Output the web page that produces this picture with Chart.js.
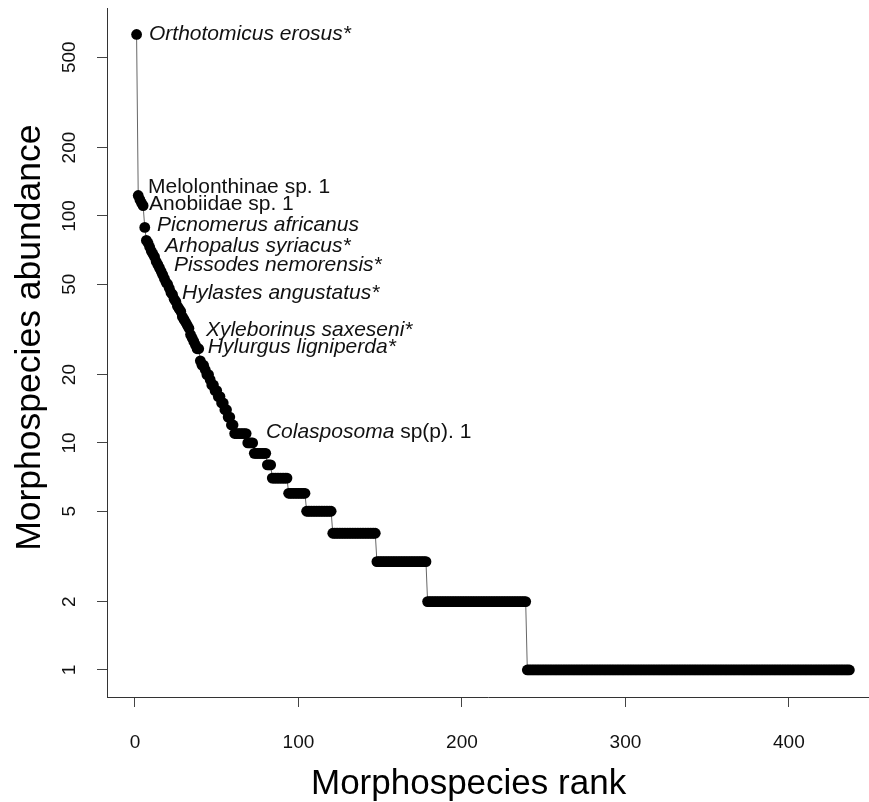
<!DOCTYPE html>
<html>
<head>
<meta charset="utf-8">
<script src="https://cdn.jsdelivr.net/npm/chart.js@4/dist/chart.umd.min.js"></script>
<style>
  html, body { margin: 0; padding: 0; background: #fff; overflow: hidden; }
  #wrap { width: 869px; height: 802px; }
</style>
</head>
<body>
<div id="wrap"><canvas id="rankChart" width="869" height="802"></canvas></div>
<script>
// abundances of the 60 most common morphospecies, by rank
const topAbundance = [
    630, 123, 118, 114, 111, 89, 78, 76, 73, 70,
    68, 66, 63, 61, 59, 57, 55, 53, 51, 50,
    48, 46, 45, 43, 42, 40, 39, 38, 36, 35,
    34, 33, 32, 30, 29, 28, 27, 26, 26, 23,
    22, 22, 21, 20, 20, 19, 18, 18, 17, 17,
    16, 16, 15, 15, 14, 14, 13, 13, 12, 12,
];
// the rest come in runs of equal abundance
const runValues = [11, 10, 9, 8, 7, 6, 5, 4, 3, 2, 1];
const runLengths = [8, 4, 8, 3, 10, 11, 16, 27, 31, 61, 198];

const xTicks = [0, 100, 200, 300, 400];
const yTicks = [1, 2, 5, 10, 20, 50, 100, 200, 500];

// species labels: parts [text, italic], anchored at (rank, abundance)
const labelParts = [
    [['Orthotomicus erosus*', true]],
    [['Melolonthinae sp. 1', false]],
    [['Anobiidae sp. 1', false]],
    [['Picnomerus africanus', true]],
    [['Arhopalus syriacus*', true]],
    [['Pissodes nemorensis*', true]],
    [['Hylastes angustatus*', true]],
    [['Xyleborinus saxeseni*', true]],
    [['Hylurgus ligniperda*', true]],
    [['Colasposoma', true], [' sp(p). 1', false]],
];
const labelRanks = [8.6, 8.0, 8.6, 13.5, 18.4, 23.9, 28.8, 43.4, 44.6, 80.1];
const labelValues = [634, 134, 113, 91.3, 73.8, 60.8, 45.8, 31.5, 26.5, 11.2];

const abundance = topAbundance.slice();
runValues.forEach((v, i) => {
    for (let k = 0; k < runLengths[i]; k++) abundance.push(v);
});
const points = abundance.map((v, i) => ({ x: i + 1, y: v }));

const FONT = '"Liberation Sans", Arial, Helvetica, sans-serif';

const speciesLabels = {
    id: 'speciesLabels',
    afterDatasetsDraw(chart) {
        const { ctx, scales } = chart;
        ctx.save();
        ctx.fillStyle = '#111';
        ctx.textBaseline = 'middle';
        ctx.textAlign = 'left';
        labelParts.forEach((parts, i) => {
            let px = scales.x.getPixelForValue(labelRanks[i]);
            const py = scales.y.getPixelForValue(labelValues[i]);
            parts.forEach(([text, italic]) => {
                ctx.font = (italic ? 'italic ' : '') + '21px ' + FONT;
                ctx.fillText(text, px, py);
                px += ctx.measureText(text).width;
            });
        });
        ctx.restore();
    },
};

new Chart(document.getElementById('rankChart').getContext('2d'), {
    type: 'scatter',
    data: {
        datasets: [
            {
                data: points,
                showLine: true,
                borderColor: '#666',
                borderWidth: 1,
                pointRadius: 5.4,
                pointBackgroundColor: '#000',
                pointBorderWidth: 0,
                pointHoverRadius: 5.4,
            },
        ],
    },
    options: {
        responsive: false,
        animation: false,
        devicePixelRatio: 1,
        layout: {
            autoPadding: false,
            padding: { top: 8, right: 0, left: 0, bottom: 0 },
        },
        plugins: {
            legend: { display: false },
            tooltip: { enabled: false },
        },
        scales: {
            x: {
                type: 'linear',
                min: -17.1,
                max: 449,
                afterBuildTicks: (scale) => {
                    scale.ticks = xTicks.map((v) => ({ value: v }));
                },
                afterFit: (scale) => {
                    scale.height = 105;
                    scale.paddingLeft = 0;
                    scale.paddingRight = 0;
                },
                ticks: {
                    color: '#111',
                    padding: 24,
                    maxRotation: 0,
                    font: { family: FONT, size: 19 },
                    callback: (v) => String(v),
                },
                grid: {
                    drawOnChartArea: false,
                    tickLength: 10,
                    color: '#444',
                },
                border: { display: true, color: '#333', width: 1 },
                title: {
                    display: true,
                    // trailing spaces pull the centred title left, as in the original
                    text: 'Morphospecies rank    ',
                    color: '#000',
                    font: { family: FONT, size: 35 },
                    padding: { top: 0, bottom: -3 },
                },
            },
            y: {
                type: 'logarithmic',
                min: 0.76,
                max: 824,
                afterBuildTicks: (scale) => {
                    scale.ticks = yTicks.map((v) => ({ value: v }));
                },
                afterFit: (scale) => {
                    scale.width = 107;
                    scale.paddingTop = 0;
                    scale.paddingBottom = 0;
                },
                ticks: {
                    color: '#111',
                    padding: 11,
                    minRotation: 90,
                    maxRotation: 90,
                    crossAlign: 'center',
                    font: { family: FONT, size: 19 },
                    callback: (v) => String(v),
                },
                grid: {
                    drawOnChartArea: false,
                    tickLength: 10,
                    color: '#444',
                },
                border: { display: true, color: '#333', width: 1 },
                title: {
                    display: true,
                    text: '   Morphospecies abundance',
                    color: '#000',
                    font: { family: FONT, size: 35.5 },
                    padding: { top: 9, bottom: 0 },
                },
            },
        },
    },
    plugins: [speciesLabels],
});
</script>
</body>
</html>
